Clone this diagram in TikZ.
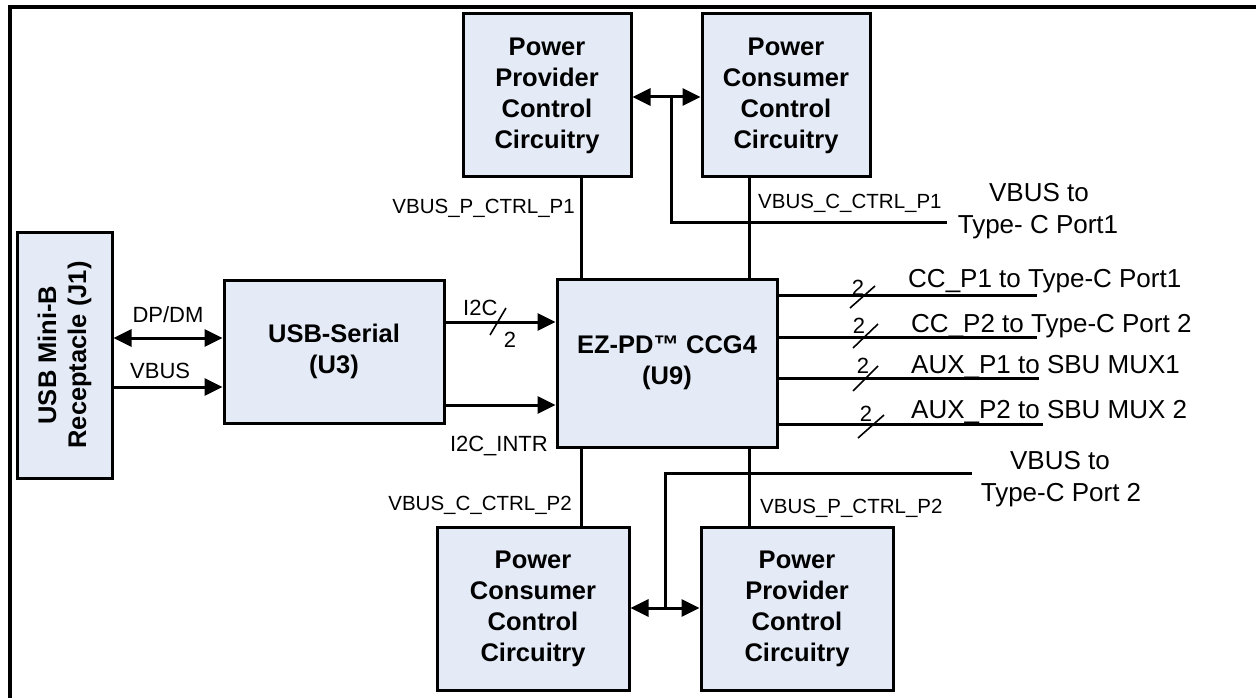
\documentclass[tikz,border=0pt]{standalone}
\usepackage{fontspec}
\setmainfont{Liberation Sans}
\usetikzlibrary{arrows.meta}
\definecolor{boxfill}{RGB}{228,235,247}
\begin{document}
\begin{tikzpicture}[x=1pt,y=-1pt,
  box/.style={draw=black, line width=3pt, fill=boxfill, align=center, inner sep=0pt,
    font=\bfseries\fontsize{25.5}{31}\selectfont},
  conn/.style={line width=3pt},
  tip/.style={-{Triangle[length=18pt,width=17pt]}},
  dtip/.style={{Triangle[length=18pt,width=17pt]}-{Triangle[length=18pt,width=17pt]}},
  slash/.style={line width=1.6pt},
  lbl/.style={font=\fontsize{20.5}{22}\selectfont, inner sep=0pt},
  mid/.style={font=\fontsize{22}{24}\selectfont, inner sep=0pt},
  big/.style={font=\fontsize{26}{32}\selectfont, inner sep=0pt, align=center}]
\useasboundingbox (0,0) rectangle (1256,698);
% frame
\draw[line width=4pt] (10,698) -- (10,7) -- (1256,7);
% boxes
\node[box, minimum width=168, minimum height=163] (ppc1) at (547,95.5) {Power\\Provider\\Control\\Circuitry};
\node[box, minimum width=168, minimum height=163] (pcc1) at (786,95.5) {Power\\Consumer\\Control\\Circuitry};
\node[box, rotate=90, minimum width=246, minimum height=95, font=\bfseries\fontsize{25.5}{30}\selectfont] (j1) at (64.5,355) {USB Mini-B\\Receptacle (J1)};
\node[box, minimum width=220, minimum height=143] (u3) at (334,351.5) {USB-Serial\\(U3)};
\node[box, minimum width=220, minimum height=168] (u9) at (667,363) {EZ-PD™ CCG4\\(U9)};
\node[box, minimum width=192, minimum height=163] (pcc2) at (533,608.5) {Power\\Consumer\\Control\\Circuitry};
\node[box, minimum width=192, minimum height=163] (ppc2) at (797,608.5) {Power\\Provider\\Control\\Circuitry};
% coordinates
\coordinate (jt) at (671,97);
\coordinate (jtb) at (671,222);
\coordinate (vb1) at (947,222);
\coordinate (xa) at (581,0);
\coordinate (xb) at (749,0);
\coordinate (jb) at (665,608);
\coordinate (jbt) at (665,473);
\coordinate (vb2) at (972,473);
\coordinate (ydp) at (0,338);
\coordinate (yvb) at (0,387);
\coordinate (yi2c) at (0,322);
\coordinate (yint) at (0,405);
\coordinate (r1) at (1037,295);
\coordinate (r2) at (1037,337);
\coordinate (r3) at (1039,378);
\coordinate (r4) at (1043,424);
% top
\draw[conn, dtip] (ppc1.east |- jt) -- (pcc1.west |- jt);
\draw[conn] (jt) -- (jtb) -- (vb1);
\draw[conn] (xa |- ppc1.south) -- (xa |- u9.north);
\draw[conn] (xb |- pcc1.south) -- (xb |- u9.north);
% bottom
\draw[conn] (xa |- u9.south) -- (xa |- pcc2.north);
\draw[conn] (xb |- u9.south) -- (xb |- ppc2.north);
\draw[conn, tip] (jb) -- (pcc2.east |- jb);
\draw[conn, tip] (jb) -- (ppc2.west |- jb);
\draw[conn] (jb) -- (jbt) -- (vb2);
% left
\draw[conn, dtip] (j1.south |- ydp) -- (u3.west |- ydp);
\draw[conn, tip] (j1.south |- yvb) -- (u3.west |- yvb);
\draw[conn, tip] (u3.east |- yi2c) -- (u9.west |- yi2c);
\draw[conn, tip] (u3.east |- yint) -- (u9.west |- yint);
\draw[slash] (490,335) -- (506,308);
% right buses
\draw[conn] (u9.east |- r1) -- (r1);
\draw[conn] (u9.east |- r2) -- (r2);
\draw[conn] (u9.east |- r3) -- (r3);
\draw[conn] (u9.east |- r4) -- (r4);
\draw[slash] (850,308) -- (875,286);
\draw[slash] (853,348) -- (878,324);
\draw[slash] (853,391) -- (878,366);
\draw[slash] (858,438) -- (884,415);
% labels
\node[lbl, anchor=base east] (lp1) at (575,213) {VBUS\_P\_CTRL\_P1};
\node[lbl, anchor=base west] (lc1) at (758,208) {VBUS\_C\_CTRL\_P1};
\node[lbl, anchor=base east] (lc2) at (572,510) {VBUS\_C\_CTRL\_P2};
\node[lbl, anchor=base west] (lp2) at (760,513) {VBUS\_P\_CTRL\_P2};
\node[big, anchor=base] (vt1a) at (1039,201) {VBUS to};
\node[big, anchor=base] (vt1b) at (1038,233) {Type- C Port1};
\node[big, anchor=base] (vt2a) at (1060,469) {VBUS to};
\node[big, anchor=base] (vt2b) at (1061,501) {Type-C Port 2};
\node[big, anchor=base west] (cc1) at (908,287) {CC\_P1 to Type-C Port1};
\node[big, anchor=base west] (cc2) at (911,332) {CC\_P2 to Type-C Port 2};
\node[big, anchor=base west] (ax1) at (911,373) {AUX\_P1 to SBU MUX1};
\node[big, anchor=base west] (ax2) at (911,418) {AUX\_P2 to SBU MUX 2};
\node[mid, anchor=base] (n1) at (858,295) {2};
\node[mid, anchor=base] (n2) at (859,333) {2};
\node[mid, anchor=base] (n3) at (863,373) {2};
\node[mid, anchor=base] (n4) at (866,421) {2};
\node[mid, anchor=base] (ldp) at (168,322) {DP/DM};
\node[mid, anchor=base west] (lvb) at (130,378) {VBUS};
\node[mid, anchor=base west] (li2c) at (463,315) {I2C};
\node[mid, anchor=base] (l2) at (510,347) {2};
\node[mid, anchor=base east] (lint) at (548,451) {I2C\_INTR};
\end{tikzpicture}
\end{document}
